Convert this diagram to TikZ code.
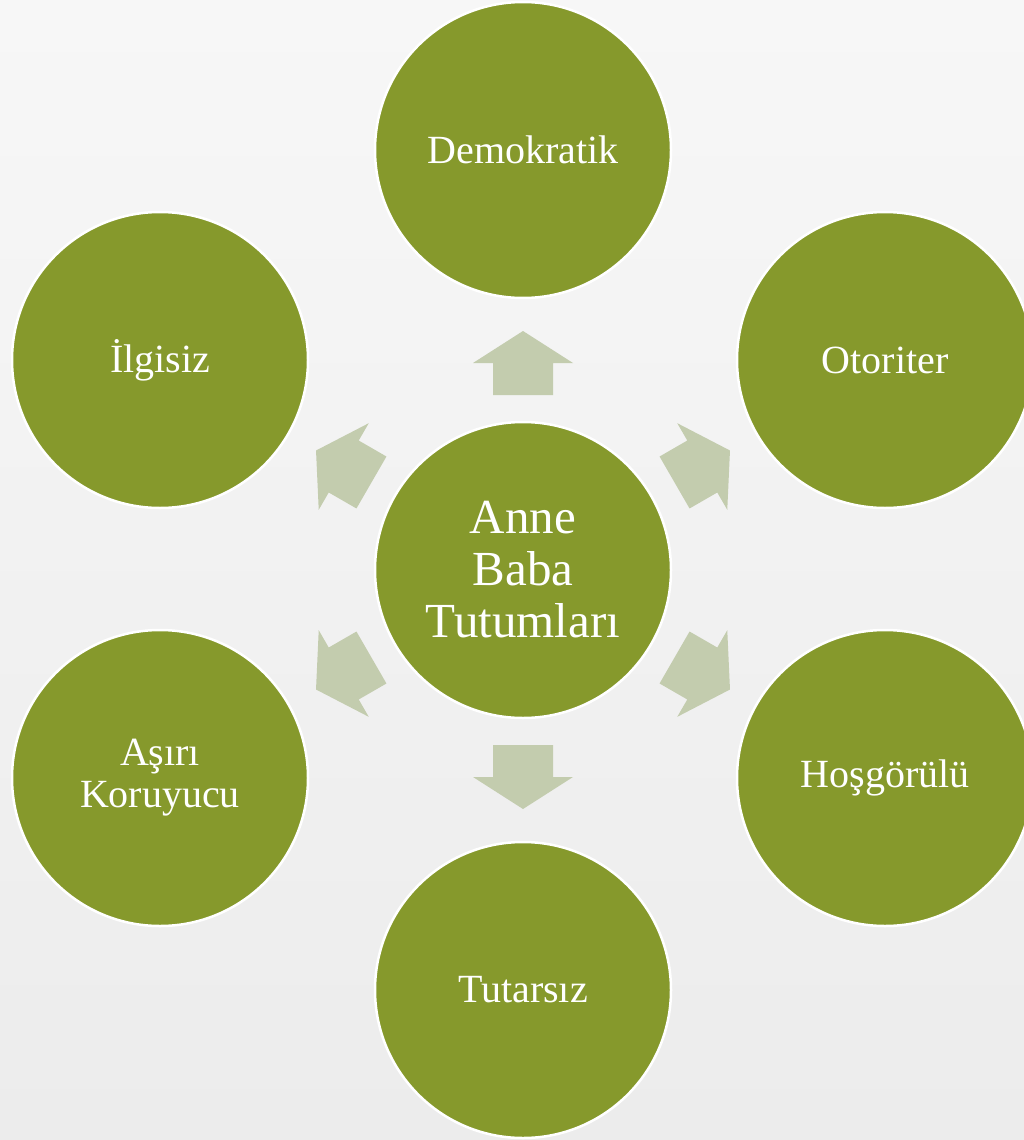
\documentclass[tikz,border=0pt]{standalone}
\usepackage{fontspec}
\setmainfont{Liberation Serif}
\definecolor{leaf}{HTML}{86992C}
\definecolor{sage}{HTML}{C3CCAE}
\definecolor{bgtop}{HTML}{F7F7F7}
\definecolor{bgbot}{HTML}{ECECEC}
\tikzset{
  bubble/.style={circle, fill=leaf, draw=white, line width=2.5pt, minimum size=296pt, inner sep=0pt,
    text=white, align=center, font=\fontsize{40}{42}\selectfont},
  hub/.style={bubble, font=\fontsize{49}{52}\selectfont},
  blockarrow/.style={fill=sage, draw=none}
}
\begin{document}
\begin{tikzpicture}[x=1pt,y=-1pt]
\useasboundingbox (0,0) rectangle (1024,1140);
\clip (0,0) rectangle (1024,1140);
\shade[top color=bgtop, bottom color=bgbot] (0,0) rectangle (1024,1140);
% block arrows
\foreach \ang in {90,30,-30,270,210,150}{
  \begin{scope}[shift={(523,570)}, rotate=\ang]
    \fill[blockarrow] (175,-30) -- (207,-30) -- (207,-50) -- (239,0) -- (207,50) -- (207,30) -- (175,30) -- cycle;
  \end{scope}
}
\node[hub] (hub) at (523,570) {Anne\\Baba\\Tutumları};
\node[bubble] (dem) at (523,150) {Demokratik};
\node[bubble] (oto) at (885,360) {Otoriter};
\node[bubble] (hos) at (885,778) {Hoşgörülü};
\node[bubble] (tut) at (523,990) {Tutarsız};
\node[bubble] (asi) at (160,778) {Aşırı\\Koruyucu};
\node[bubble] (ilg) at (160,360) {İlgisiz};
\end{tikzpicture}
\end{document}
